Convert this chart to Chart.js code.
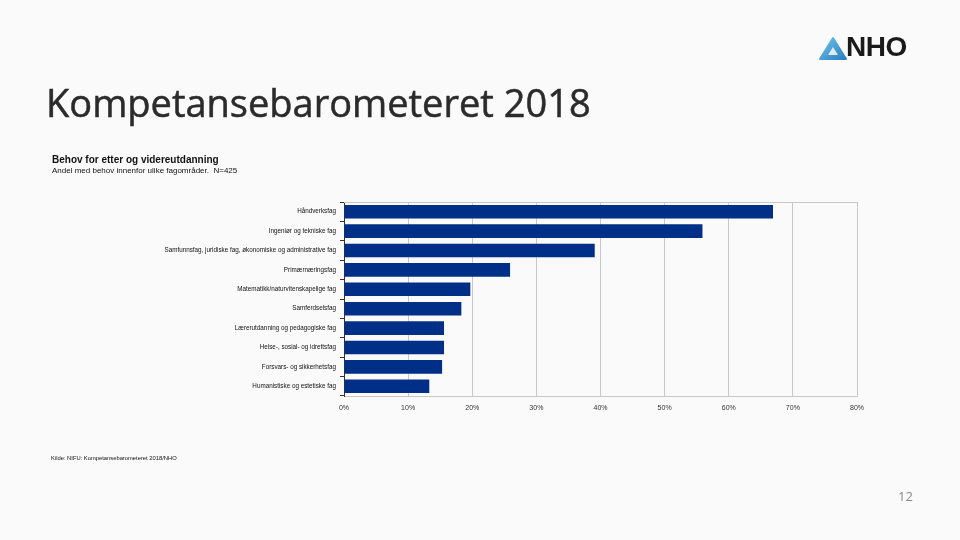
<!DOCTYPE html>
<html>
<head>
<meta charset="utf-8">
<script src="https://cdn.jsdelivr.net/npm/chart.js@4.4.0/dist/chart.umd.min.js"></script>
<style>
  html, body { margin:0; padding:0; background:#fafafa; }
  #wrap { position:relative; width:960px; height:540px; overflow:hidden; background:#fafafa; font-family:"Open Sans", "Noto Sans", sans-serif; }
  #c { position:absolute; left:0; top:0; }
  .t { position:absolute; white-space:nowrap; }
</style>
</head>
<body>
<div id="wrap">
  <canvas id="c" width="960" height="540"></canvas>
  <div class="t" style="left:46px; top:76px; font-size:38px; color:#2b2b2b; font-family:'Open Sans','Noto Sans',sans-serif; -webkit-text-stroke:0.5px #2b2b2b;">Kompetansebarometeret 2018</div>
  <div class="t" style="left:52px; top:154px; font-size:10px; font-weight:bold; color:#111; font-family:'Liberation Sans',sans-serif;">Behov for etter og videreutdanning</div>
  <div class="t" style="left:52px; top:166px; font-size:8px; color:#111; font-family:'Liberation Sans',sans-serif;">Andel med behov innenfor ulike fagområder.&nbsp; N=425</div>
  <div class="t" style="left:51px; top:455px; font-size:5.8px; color:#111; font-family:'Liberation Sans',sans-serif;">Kilde: NIFU: Kompetansebarometeret 2018/NHO</div>
  <div class="t" style="left:898px; top:487px; font-size:13px; color:#888; font-family:'Open Sans',sans-serif;">12</div>
  <div class="t" style="left:818px; top:36px;">
    <svg width="30" height="26" viewBox="0 0 30 26">
      <defs><linearGradient id="g" x1="0" y1="0" x2="1" y2="1"><stop offset="0" stop-color="#6fc3ec"/><stop offset="1" stop-color="#2a7fc0"/></linearGradient></defs>
      <path d="M15 2 L28 23 L2 23 Z" fill="url(#g)" stroke="url(#g)" stroke-width="2" stroke-linejoin="round"/>
      <path d="M15 11 L20 19 L10 19 Z" fill="#fafafa" opacity="0.85"/>
    </svg>
  </div>
  <div class="t" style="left:846px; top:31px; font-size:28px; font-weight:bold; color:#1a1a1a; font-family:'Liberation Sans',sans-serif; letter-spacing:-0.5px;">NHO</div>
</div>
<script>
const categories = [
  "Håndverksfag",
  "Ingeniør og tekniske fag",
  "Samfunnsfag, juridiske fag, økonomiske og administrative fag",
  "Primærnæringsfag",
  "Matematikk/naturvitenskapelige fag",
  "Samferdselsfag",
  "Lærerutdanning og pedagogiske fag",
  "Helse-, sosial- og idrettsfag",
  "Forsvars- og sikkerhetsfag",
  "Humanistiske og estetiske fag"
];
const values = [66.9, 55.9, 39.1, 25.9, 19.7, 18.3, 15.6, 15.6, 15.3, 13.3];
const xTicks = [0, 10, 20, 30, 40, 50, 60, 70, 80];

new Chart(document.getElementById('c'), {
  type: 'bar',
  data: {
    labels: categories,
    datasets: [{
      data: values,
      backgroundColor: '#002f87',
      borderWidth: 0,
      barPercentage: 0.7,
      categoryPercentage: 1.0
    }]
  },
  options: {
    indexAxis: 'y',
    responsive: false,
    animation: false,
    devicePixelRatio: 1,
    layout: { padding: { left: 0, right: 103, top: 202, bottom: 0 } },
    plugins: { legend: { display: false }, tooltip: { enabled: false } },
    scales: {
      x: {
        min: 0, max: 80,
        afterBuildTicks: (s) => { s.ticks = xTicks.map(v => ({ value: v })); },
        ticks: { callback: (v) => v + '%', color: '#333', font: { family: 'Liberation Sans', size: 7 }, padding: 8, maxRotation: 0 },
        grid: { color: '#c8c8c8', lineWidth: 1, drawTicks: false },
        border: { display: true, color: '#c8c8c8' },
        afterFit: (s) => { s.height = 540 - 396; }
      },
      y: {
        offset: true,
        ticks: { color: '#111', font: { family: 'Liberation Sans', size: 6.3 }, padding: 4 },
        grid: { offset: true, drawOnChartArea: false, drawTicks: true, tickLength: 4, color: '#333' },
        border: { display: true, color: '#333', width: 1 },
        afterFit: (s) => { s.width = 344; }
      }
    }
  },
  plugins: [{
    id: 'frame',
    afterDraw(chart) {
      const a = chart.chartArea, ctx = chart.ctx;
      ctx.save();
      ctx.strokeStyle = '#c8c8c8'; ctx.lineWidth = 1;
      ctx.beginPath();
      ctx.moveTo(a.left, a.top + 0.5); ctx.lineTo(a.right, a.top + 0.5);
      ctx.stroke();
      ctx.restore();
    }
  }]
});
</script>
</body>
</html>
